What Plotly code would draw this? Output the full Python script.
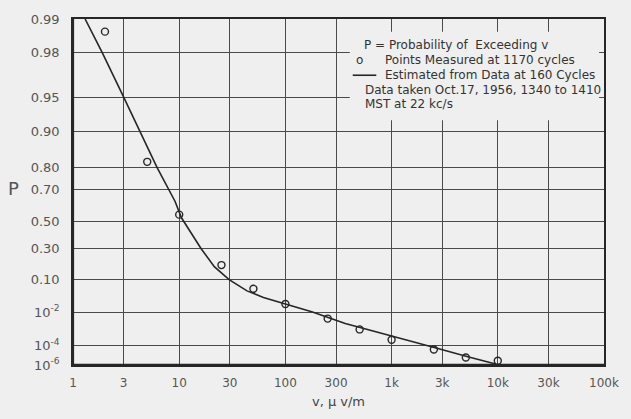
import numpy as np
import plotly.graph_objects as go

# ---- data ----
v_meas = [2, 5, 10, 25, 50, 100, 250, 500, 1000, 2500, 5000, 10000]
p_meas = [0.987, 0.82, 0.55, 0.18, 0.06, 0.021, 0.0053, 0.0014, 2.9e-4, 4.6e-5, 7.4e-6, 3.2e-6]

v_est = [1.30, 1.88, 3.0, 4.28, 6.18, 9.15, 10.5, 16.1, 21.4, 29.5, 43.5, 62.1, 100, 180, 366, 1059, 2573, 5222, 9540]
p_est = [0.99, 0.98, 0.95, 0.90, 0.80, 0.635, 0.528, 0.296, 0.17, 0.098, 0.053, 0.0345, 0.021, 0.0104, 0.0030, 5.0e-4, 6.5e-5, 8.7e-6, 1.3e-6]

x_ticks = [1, 3, 10, 30, 100, 300, 1000, 3000, 10000, 30000, 100000]
x_labels = ["1", "3", "10", "30", "100", "300", "1k", "3k", "10k", "30k", "100k"]
p_ticks = [0.99, 0.98, 0.95, 0.90, 0.80, 0.70, 0.50, 0.30, 0.10, 1e-2, 1e-4, 1e-6]
p_labels = ["0.99", "0.98", "0.95", "0.90", "0.80", "0.70", "0.50", "0.30", "0.10",
            "10<sup>-2</sup>", "10<sup>-4</sup>", "10<sup>-6</sup>"]


def ray(p):
    """Rayleigh probability-paper scale."""
    return np.log10(-np.log(np.asarray(p, dtype=float)))


BG = "#efefef"
INK = "#262626"
GRID = "#4a4a4a"
FONT = "DejaVu Sans"

W, H = 631, 419
L, R, T, B = 73, 17, 13, 51
PW, PH = W - L - R, H - T - B


def px(x):
    return (x - L) / PW


def py(y):
    return 1 - (y - T) / PH


fig = go.Figure()
fig.add_trace(go.Scatter(x=v_est, y=ray(p_est), mode="lines",
                         line=dict(color=INK, width=1.6), showlegend=False,
                         hoverinfo="skip"))
fig.add_trace(go.Scatter(x=v_meas, y=ray(p_meas), mode="markers",
                         marker=dict(symbol="circle-open", size=7, color=INK,
                                     line=dict(width=1.4, color=INK)),
                         showlegend=False))

fig.update_xaxes(type="log", range=[0, 5], tickvals=x_ticks, ticktext=x_labels,
                 showgrid=True, gridcolor=GRID, gridwidth=1, zeroline=False,
                 showline=True, linecolor=INK, linewidth=1.5, mirror=True,
                 ticks="", ticklabelstandoff=6,
                 tickfont=dict(family=FONT, size=12, color="#555"),
                 title=dict(text="v, \u03bc v/m", standoff=8,
                            font=dict(family=FONT, size=13, color="#444")))
fig.update_yaxes(range=[float(ray(1e-6)), float(ray(0.99))],
                 tickvals=list(ray(p_ticks)), ticktext=p_labels,
                 showgrid=True, gridcolor=GRID, gridwidth=1, zeroline=False,
                 showline=True, linecolor=INK, linewidth=1.5, mirror=True,
                 ticks="", ticklabelstandoff=9,
                 tickfont=dict(family=FONT, size=13, color="#555"))

shapes = [
    # thicker left and bottom frame
    dict(type="line", xref="paper", yref="paper", x0=0, x1=0, y0=0, y1=1,
         line=dict(color=INK, width=2.2), layer="above"),
    dict(type="line", xref="paper", yref="paper", x0=0, x1=1, y0=0, y1=0,
         line=dict(color=INK, width=2.6), layer="above"),
    # note box hiding the grid
    dict(type="rect", xref="paper", yref="paper", x0=px(355), x1=px(609),
         y0=py(117), y1=py(26), fillcolor=BG, line=dict(width=0), layer="above"),
    # legend dash
    dict(type="line", xref="paper", yref="paper", x0=px(358), x1=px(382),
         y0=py(70.7), y1=py(70.7), line=dict(color=INK, width=1.6), layer="above"),
]

nf = dict(family=FONT, size=12, color="#333")
notes = [
    (367, 39.3, "P = Probability of  Exceeding v"),
    (359, 55.5, "o"),
    (389, 55.0, "Points Measured at 1170 cycles"),
    (389, 70.7, "Estimated from Data at 160 Cycles"),
    (368, 85.7, "Data taken Oct.17, 1956, 1340 to 1410"),
    (368, 100.5, "MST at 22 kc/s"),
]
annotations = [dict(x=px(x), y=py(y), xref="paper", yref="paper", text=t,
                    showarrow=False, xanchor="left", yanchor="middle", font=nf)
               for x, y, t in notes]
annotations.append(dict(x=px(12), y=py(187), xref="paper", yref="paper", text="P",
                        showarrow=False, xanchor="center", yanchor="middle",
                        font=dict(family=FONT, size=18, color="#555")))

fig.update_layout(width=W, height=H, margin=dict(l=L, r=R, t=T, b=B),
                  paper_bgcolor=BG, plot_bgcolor=BG, shapes=shapes,
                  annotations=annotations, font=dict(family=FONT))

fig.write_html("out.html")
